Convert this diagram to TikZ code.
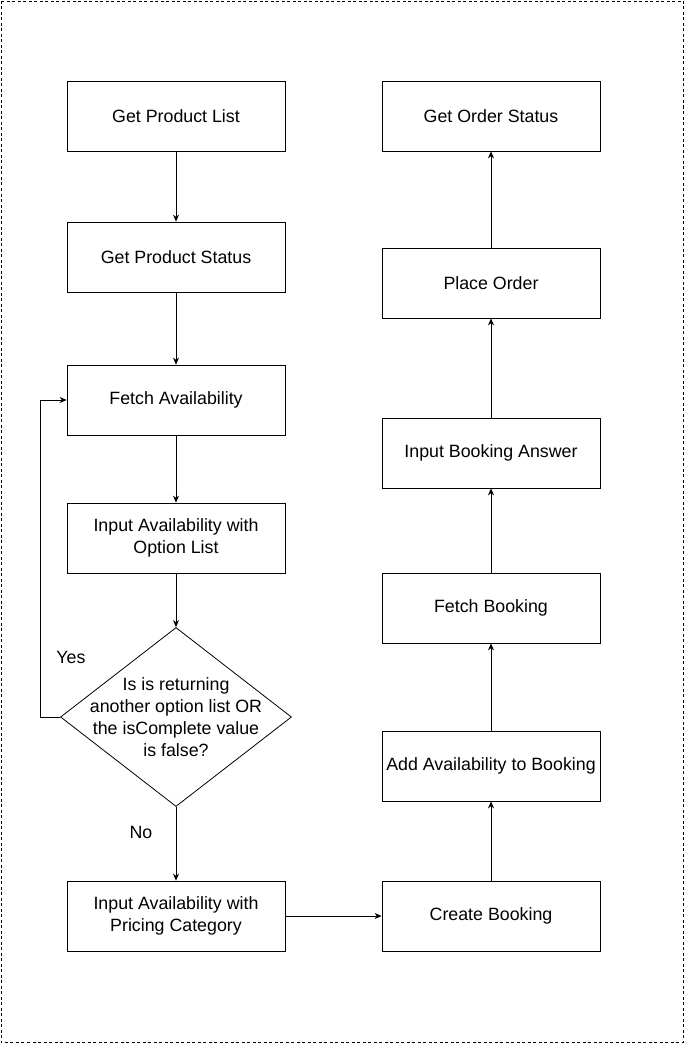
\documentclass[tikz,border=0pt]{standalone}
\usepackage{fontspec}
\setmainfont{Liberation Sans}
\usetikzlibrary{arrows.meta,shapes.geometric}
\begin{document}
\begin{tikzpicture}[x=1pt, y=-1pt,
    stepbox/.style={rectangle,draw,line width=0.8pt,minimum width=218pt,minimum height=70pt,align=center,inner sep=2pt},
    decision/.style={diamond,draw,line width=0.8pt,minimum width=231pt,minimum height=179pt,inner sep=0pt},
    arrow/.style={line width=0.8pt,-{Stealth[length=7pt,width=6pt]}},
    every node/.style={font=\fontsize{17.8}{22}\selectfont}]
    % Page frame
    \useasboundingbox (0,0) rectangle (684,1043);
    \draw[dash pattern=on 3pt off 2.5pt, line width=0.8pt] (1,1) rectangle (683,1042);
    % Left column
    \node[stepbox] (prodlist) at (176,116) {Get Product List};
    \node[stepbox] (prodstatus) at (176,257) {Get Product Status};
    \node[stepbox] (fetchavail) at (176,400) {Fetch Availability};
    \node[stepbox] (optlist) at (176,538) {Input Availability with\\Option List};
    \node[decision, label={[align=center]center:Is is returning\\another option list OR\\the isComplete value\\is false?}] (check) at (176,717) {};
    \node[stepbox] (pricing) at (176,916) {Input Availability with\\Pricing Category};
    % Right column
    \node[stepbox] (orderstatus) at (491,116) {Get Order Status};
    \node[stepbox] (placeorder) at (491,283) {Place Order};
    \node[stepbox] (answer) at (491,453) {Input Booking Answer};
    \node[stepbox] (fetchbook) at (491,608) {Fetch Booking};
    \node[stepbox] (addavail) at (491,766) {Add Availability to Booking};
    \node[stepbox] (create) at (491,916) {Create Booking};
    % Labels
    \node (yes) at (71,657) {Yes};
    \node (no) at (141,832) {No};
    % Connectors
    \draw[arrow] (prodlist) -- (prodstatus);
    \draw[arrow] (prodstatus) -- (fetchavail);
    \draw[arrow] (fetchavail) -- (optlist);
    \draw[arrow] (optlist) -- (check);
    \draw[arrow] (check.west) -- ++(-20,0) |- (fetchavail.west);
    \draw[arrow] (check) -- (pricing);
    \draw[arrow] (pricing) -- (create);
    \draw[arrow] (create) -- (addavail);
    \draw[arrow] (addavail) -- (fetchbook);
    \draw[arrow] (fetchbook) -- (answer);
    \draw[arrow] (answer) -- (placeorder);
    \draw[arrow] (placeorder) -- (orderstatus);
\end{tikzpicture}
\end{document}
